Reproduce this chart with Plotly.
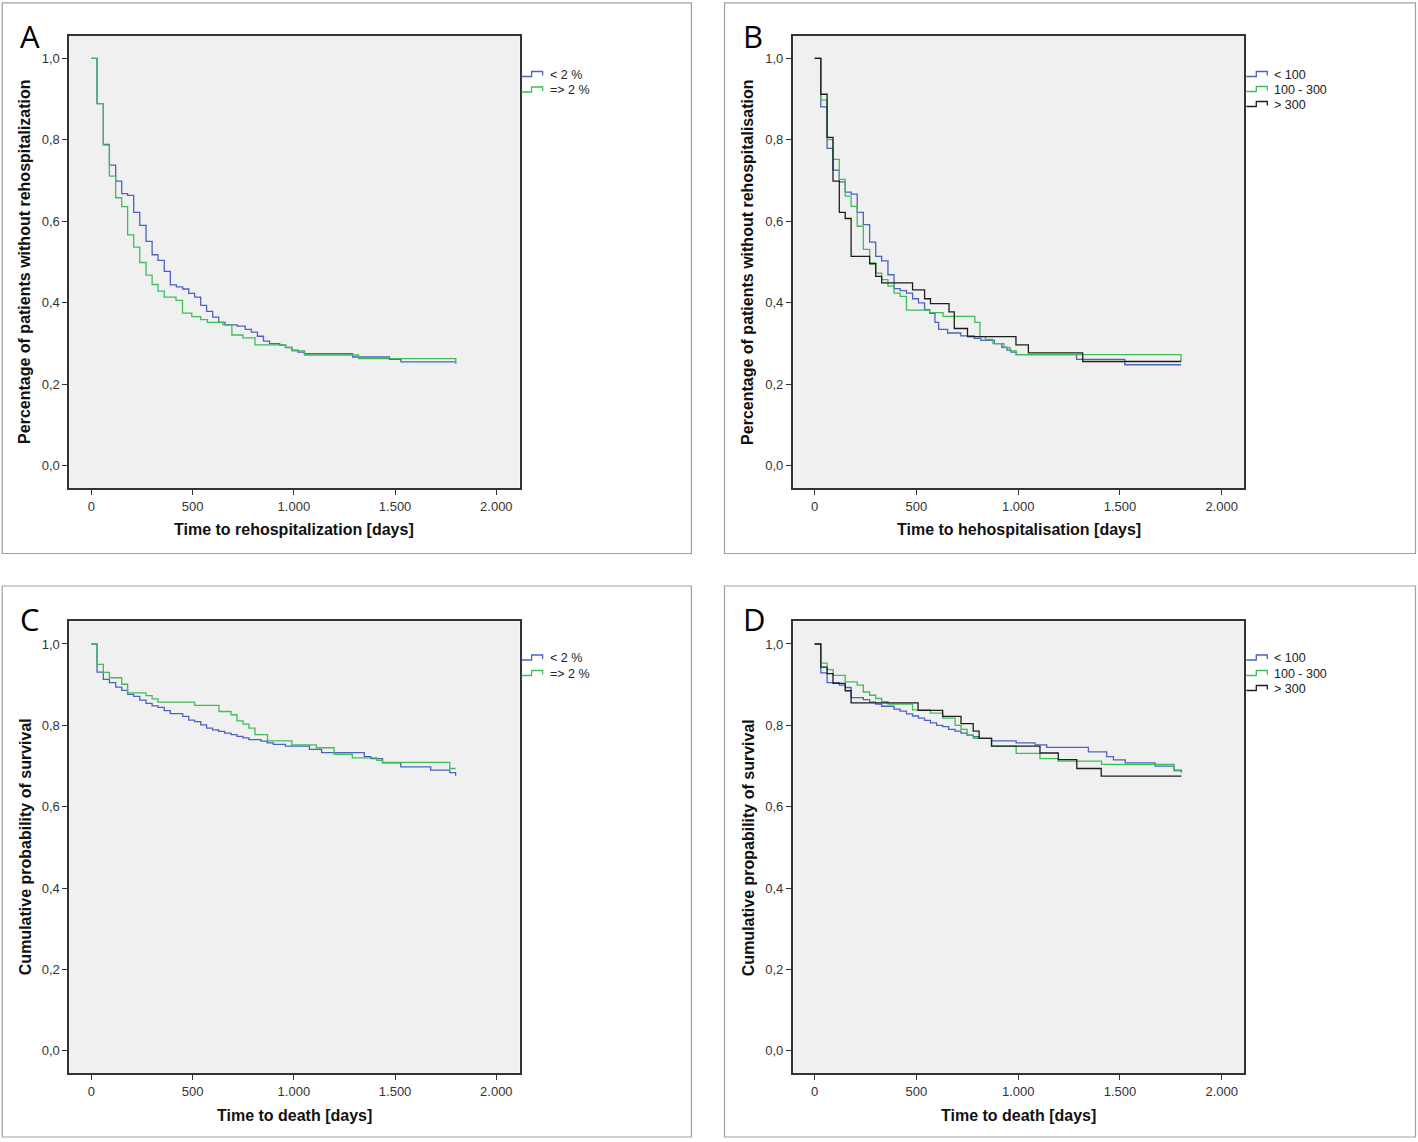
import plotly.graph_objects as go

W, H = 1418, 1142

x_tick_vals = [0, 500, 1000, 1500, 2000]
x_tick_text = ["0", "500", "1.000", "1.500", "2.000"]
y_tick_vals = [0.0, 0.2, 0.4, 0.6, 0.8, 1.0]
y_tick_text = ["0,0", "0,2", "0,4", "0,6", "0,8", "1,0"]

# A - rehospitalization, < 2 % vs => 2 %
a_lt2_days = [0, 28, 59, 89, 120, 150, 179, 209, 239, 270, 300, 329, 360, 390, 420, 451, 481, 510,
              540, 569, 599, 629, 660, 720, 760, 790, 820, 850, 880, 930, 960, 990, 1020, 1052,
              1290, 1472, 1529, 1800]
a_lt2_surv = [1.0, 0.889, 0.789, 0.738, 0.699, 0.668, 0.664, 0.622, 0.590, 0.551, 0.518, 0.504,
              0.477, 0.444, 0.439, 0.434, 0.423, 0.414, 0.394, 0.379, 0.365, 0.352, 0.346, 0.343,
              0.335, 0.328, 0.318, 0.306, 0.300, 0.296, 0.290, 0.284, 0.279, 0.275, 0.267, 0.261,
              0.255, 0.255]
a_ge2_days = [0, 28, 59, 89, 120, 150, 179, 209, 239, 270, 300, 329, 360, 418, 450, 496, 540, 573,
              650, 694, 749, 808, 958, 991, 1053, 1320, 1800]
a_ge2_surv = [1.0, 0.889, 0.787, 0.711, 0.658, 0.636, 0.567, 0.537, 0.499, 0.468, 0.445, 0.429,
              0.414, 0.406, 0.375, 0.366, 0.359, 0.352, 0.346, 0.321, 0.314, 0.297, 0.291, 0.282,
              0.272, 0.263, 0.250]

# B - rehospitalization, < 100 / 100 - 300 / > 300
b_lt100_days = [0, 30, 61, 90, 121, 150, 179, 209, 239, 270, 300, 329, 360, 390, 420, 451, 481,
                510, 540, 565, 591, 609, 653, 718, 784, 817, 883, 920, 945, 965, 990, 1287, 1524,
                1800]
b_lt100_surv = [1.0, 0.881, 0.779, 0.726, 0.697, 0.672, 0.667, 0.622, 0.592, 0.549, 0.514, 0.503,
                0.469, 0.435, 0.430, 0.424, 0.410, 0.400, 0.383, 0.374, 0.352, 0.335, 0.326,
                0.319, 0.313, 0.308, 0.300, 0.291, 0.284, 0.279, 0.273, 0.261, 0.248, 0.248]
b_mid_days = [0, 30, 61, 90, 121, 150, 179, 209, 239, 270, 300, 329, 360, 390, 420, 451, 565, 631,
              787, 812, 839, 876, 930, 960, 990, 1800]
b_mid_surv = [1.0, 0.898, 0.801, 0.752, 0.703, 0.662, 0.637, 0.588, 0.531, 0.498, 0.473, 0.457,
              0.441, 0.424, 0.416, 0.382, 0.376, 0.367, 0.352, 0.317, 0.310, 0.300, 0.290, 0.282,
              0.273, 0.255]
b_gt300_days = [0, 30, 61, 90, 121, 150, 179, 270, 300, 329, 481, 540, 569, 660, 686, 751, 989,
                1050, 1317, 1800]
b_gt300_surv = [1.0, 0.912, 0.806, 0.699, 0.622, 0.607, 0.514, 0.496, 0.465, 0.449, 0.432, 0.410,
                0.398, 0.378, 0.337, 0.317, 0.297, 0.277, 0.256, 0.256]

# C - death, < 2 % vs => 2 %
c_lt2_days = [0, 28, 59, 89, 120, 150, 179, 209, 239, 270, 300, 329, 360, 390, 451, 481, 510, 540,
              569, 599, 629, 658, 690, 719, 749, 778, 838, 868, 899, 958, 1077, 1137, 1348, 1380,
              1438, 1528, 1676, 1770, 1799]
c_lt2_surv = [1.0, 0.931, 0.913, 0.905, 0.894, 0.886, 0.876, 0.871, 0.862, 0.854, 0.848, 0.844,
              0.836, 0.829, 0.822, 0.813, 0.809, 0.801, 0.793, 0.789, 0.785, 0.781, 0.777, 0.773,
              0.769, 0.765, 0.761, 0.757, 0.753, 0.749, 0.741, 0.733, 0.723, 0.718, 0.708, 0.698,
              0.690, 0.684, 0.676]
c_ge2_days = [0, 28, 59, 89, 150, 179, 270, 300, 329, 510, 630, 690, 719, 749, 778, 808, 870, 990,
              1111, 1199, 1289, 1410, 1438, 1770, 1799]
c_ge2_surv = [1.0, 0.950, 0.930, 0.917, 0.901, 0.880, 0.873, 0.865, 0.857, 0.849, 0.834, 0.826,
              0.811, 0.803, 0.793, 0.777, 0.762, 0.752, 0.745, 0.729, 0.720, 0.714, 0.709, 0.694,
              0.694]

# D - death, < 100 / 100 - 300 / > 300
d_lt100_days = [0, 30, 61, 121, 150, 179, 239, 270, 300, 329, 390, 420, 451, 481, 510, 540, 569,
                599, 629, 658, 690, 719, 749, 779, 808, 869, 990, 1083, 1140, 1345, 1435, 1468,
                1526, 1673, 1766, 1802]
d_lt100_surv = [1.0, 0.929, 0.905, 0.899, 0.893, 0.868, 0.863, 0.857, 0.852, 0.847, 0.840, 0.835,
                0.828, 0.823, 0.818, 0.812, 0.806, 0.800, 0.797, 0.790, 0.786, 0.781, 0.776,
                0.772, 0.768, 0.762, 0.757, 0.752, 0.746, 0.735, 0.723, 0.715, 0.708, 0.700,
                0.690, 0.684]
d_mid_days = [0, 30, 61, 91, 150, 209, 239, 270, 300, 329, 360, 481, 569, 629, 690, 719, 749, 779,
              869, 990, 1107, 1197, 1410, 1766, 1802]
d_mid_surv = [1.0, 0.953, 0.937, 0.923, 0.907, 0.899, 0.882, 0.874, 0.866, 0.858, 0.852, 0.838,
              0.830, 0.818, 0.800, 0.790, 0.776, 0.768, 0.749, 0.731, 0.718, 0.712, 0.704, 0.688,
              0.688]
d_gt300_days = [0, 30, 61, 90, 150, 179, 508, 629, 719, 779, 808, 869, 1107, 1197, 1288, 1408, 1802]
d_gt300_surv = [1.0, 0.943, 0.927, 0.903, 0.885, 0.855, 0.837, 0.822, 0.804, 0.786, 0.768, 0.749,
                0.732, 0.716, 0.694, 0.675, 0.675]

blue, green, black = "#4a62c0", "#3cbf55", "#1e1e1e"
tick_font = dict(family="Liberation Sans, Arial, sans-serif", size=13, color="#333333")
title_font = dict(family="Liberation Sans, Arial, sans-serif", size=16, color="#111111")


def fx(x):
    return x / W


def fy(y):
    return 1 - y / H


panels = [
    dict(letter="A", box=(2.2, 2.9, 691.4, 553.5), plot=(69.1, 35.6, 519.6, 488.2),
         xr=[-110, 2115], ytitle="Percentage of patients without rehospitalization",
         xtitle="Time to rehospitalization [days]", ytx=25, xty=530,
         series=[("< 2 %", a_lt2_days, a_lt2_surv, blue), ("=> 2 %", a_ge2_days, a_ge2_surv, green)],
         rows=[74.5, 90.0]),
    dict(letter="B", box=(724.5, 2.9, 1415.5, 553.5), plot=(792.7, 35.6, 1244.3, 488.2),
         xr=[-108, 2111], ytitle="Percentage of patients without rehospitalisation",
         xtitle="Time to hehospitalisation [days]", ytx=748, xty=530,
         series=[("< 100", b_lt100_days, b_lt100_surv, blue), ("100 - 300", b_mid_days, b_mid_surv, green),
                 ("> 300", b_gt300_days, b_gt300_surv, black)],
         rows=[74.5, 89.5, 104.5]),
    dict(letter="C", box=(2.2, 586, 691.4, 1137), plot=(69.1, 621.2, 519.6, 1073.2),
         xr=[-110, 2115], ytitle="Cumulative probability of survival",
         xtitle="Time to death [days]", ytx=25, xty=1115,
         series=[("< 2 %", c_lt2_days, c_lt2_surv, blue), ("=> 2 %", c_ge2_days, c_ge2_surv, green)],
         rows=[658.0, 673.5]),
    dict(letter="D", box=(724.5, 586, 1415.5, 1137), plot=(792.7, 621.2, 1244.3, 1073.2),
         xr=[-108, 2111], ytitle="Cumulative propability of survival",
         xtitle="Time to death [days]", ytx=748, xty=1115,
         series=[("< 100", d_lt100_days, d_lt100_surv, blue), ("100 - 300", d_mid_days, d_mid_surv, green),
                 ("> 300", d_gt300_days, d_gt300_surv, black)],
         rows=[658.0, 673.5, 688.5]),
]

fig = go.Figure()
shapes = []
annotations = []

for i, p in enumerate(panels):
    sfx = "" if i == 0 else str(i + 1)
    x0, y0, x1, y1 = p["plot"]

    for name, days, surv, col in p["series"]:
        fig.add_trace(go.Scatter(x=days, y=surv, mode="lines", name=name,
                                 line=dict(color=col, width=1.3, shape="hv"),
                                 xaxis="x" + sfx, yaxis="y" + sfx, showlegend=False))

    fig.update_layout(**{
        "xaxis" + sfx: dict(domain=[fx(x0), fx(x1)], range=p["xr"], anchor="y" + sfx,
                            tickvals=x_tick_vals, ticktext=x_tick_text, ticks="outside",
                            ticklen=5, tickcolor="#333333", showgrid=False, zeroline=False,
                            showline=True, linecolor="#333333", linewidth=1.5, mirror=True,
                            tickfont=tick_font, fixedrange=True),
        "yaxis" + sfx: dict(domain=[fy(y1), fy(y0)], range=[-0.055, 1.056], anchor="x" + sfx,
                            tickvals=y_tick_vals, ticktext=y_tick_text, ticks="outside",
                            ticklen=5, tickcolor="#333333", showgrid=False, zeroline=False,
                            showline=True, linecolor="#333333", linewidth=1.5, mirror=True,
                            tickfont=tick_font, fixedrange=True),
    })

    bx0, by0, bx1, by1 = p["box"]
    shapes.append(dict(type="rect", xref="paper", yref="paper", x0=fx(bx0), x1=fx(bx1),
                       y0=fy(by1), y1=fy(by0), line=dict(color="#a0a0a0", width=1.2)))

    annotations.append(dict(text=p["letter"], xref="paper", yref="paper", x=fx(bx0 + 16),
                            y=fy(by0 + 33), xanchor="left", yanchor="middle", showarrow=False,
                            font=dict(family="Open Sans, Noto Sans, sans-serif", size=31, color="#000000")))
    annotations.append(dict(text="<b>" + p["ytitle"] + "</b>", xref="paper", yref="paper",
                            x=fx(p["ytx"]), y=fy((y0 + y1) / 2), textangle=-90, showarrow=False,
                            xanchor="center", yanchor="middle", font=title_font))
    annotations.append(dict(text="<b>" + p["xtitle"] + "</b>", xref="paper", yref="paper",
                            x=fx((x0 + x1) / 2), y=fy(p["xty"]), showarrow=False,
                            xanchor="center", yanchor="middle", font=title_font))

    # step-shaped legend keys, drawn to the right of the plot area
    for (name, _, _, col), ry in zip(p["series"], p["rows"]):
        lx = x1 + 2
        path = "M {} {} L {} {} L {} {} L {} {} L {} {}".format(
            fx(lx), fy(ry + 2), fx(lx + 10), fy(ry + 2), fx(lx + 10), fy(ry - 3),
            fx(lx + 21), fy(ry - 3), fx(lx + 21), fy(ry + 1))
        shapes.append(dict(type="path", xref="paper", yref="paper", path=path,
                           line=dict(color=col, width=1.3)))
        annotations.append(dict(text=name, xref="paper", yref="paper", x=fx(lx + 26), y=fy(ry),
                                xanchor="left", yanchor="middle", showarrow=False,
                                font=dict(family="Liberation Sans, Arial, sans-serif", size=12.5,
                                          color="#222222")))

fig.update_layout(
    width=W, height=H,
    margin=dict(l=0, r=0, t=0, b=0),
    paper_bgcolor="white",
    plot_bgcolor="#f0f0f0",
    shapes=shapes,
    annotations=annotations,
    showlegend=False,
)

# the page body has a default 8px margin; drop it so the figure sits at the window origin
fig.write_html("out.html", config={"displayModeBar": False},
               post_script="document.body.style.margin='0';")
